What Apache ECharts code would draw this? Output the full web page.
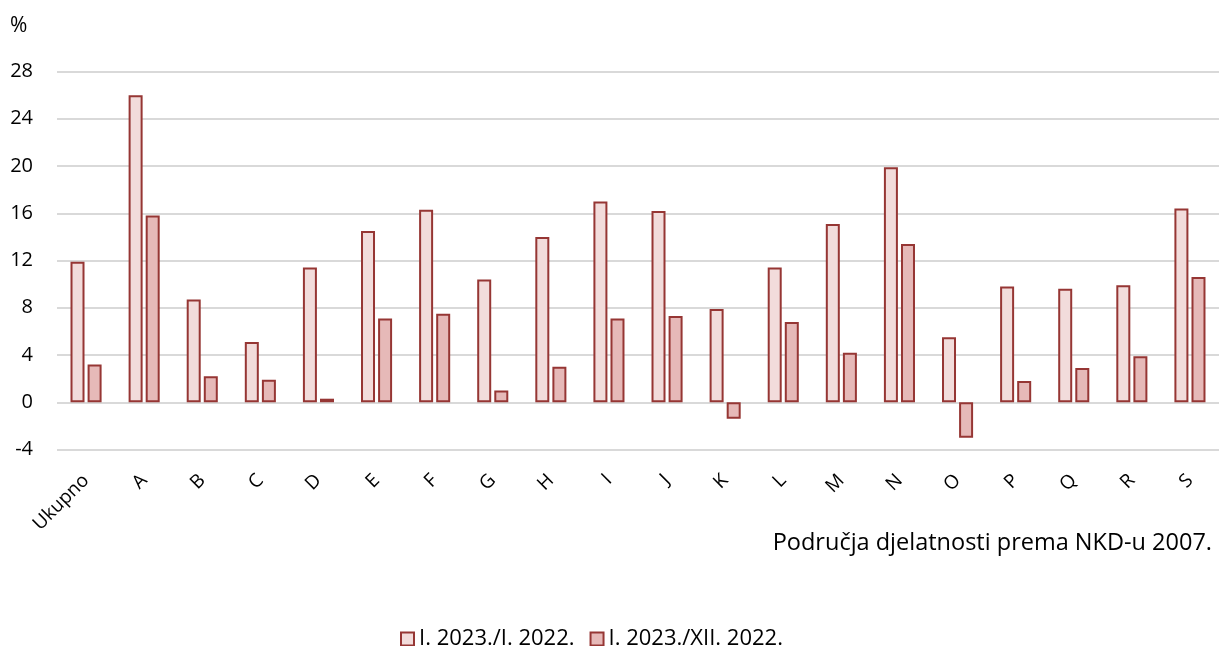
<!DOCTYPE html>
<html><head><meta charset="utf-8">
<script src="https://cdn.jsdelivr.net/npm/echarts@6/dist/echarts.min.js"></script>
<style>html,body{margin:0;padding:0;background:#fff}#c{width:1219px;height:646px}</style>
</head><body><div id="c"></div>
<script>
const categories = ['Ukupno','A','B','C','D','E','F','G','H','I','J','K','L','M','N','O','P','Q','R','S'];
const seriesNames = ['I. 2023./I. 2022.','I. 2023./XII. 2022.'];
const yoy = [11.9,26.0,8.7,5.1,11.4,14.5,16.3,10.4,14.0,17.0,16.2,7.9,11.4,15.1,19.9,5.5,9.8,9.6,9.9,16.4];
const mom = [3.2,15.8,2.2,1.9,0.3,7.1,7.5,1.0,3.0,7.1,7.3,-1.4,6.8,4.2,13.4,-3.0,1.8,2.9,3.9,10.6];
const yTicks = {min:-4,max:28,interval:4};
const unitLabel = '%';
const axisTitle = 'Područja djelatnosti prema NKD-u 2007.';

const font = '"Open Sans", "Noto Sans", sans-serif';
const chart = echarts.init(document.getElementById('c'), null, {renderer:'canvas'});
chart.setOption({
  animation:false,
  textStyle:{fontFamily:font},
  grid:{left:57,right:0,top:71.5,bottom:196.5,containLabel:false},
  xAxis:{type:'category',data:categories,
    axisLine:{show:false,onZero:false},axisTick:{show:false},
    axisLabel:{rotate:45,fontSize:19,color:'#000',margin:28,fontFamily:font,interval:0}},
  yAxis:{type:'value',min:yTicks.min,max:yTicks.max,interval:yTicks.interval,
    axisLine:{show:false},axisTick:{show:false},
    axisLabel:{fontSize:20,color:'#000',margin:24,fontFamily:font},
    splitLine:{lineStyle:{color:'#d9d9d9',width:2}}},
  legend:{left:395,top:623,itemWidth:13,itemHeight:13,itemGap:15,icon:'rect',
    textStyle:{fontSize:22,color:'#000',fontFamily:font},
    data:seriesNames},
  graphic:[
    {type:'text',left:10,top:16,style:{text:unitLabel,fontSize:21,fill:'#000',fontFamily:font}},
    {type:'text',right:7,top:531,style:{text:axisTitle,fontSize:23.5,fill:'#000',fontFamily:font}}
  ],
  series:[
    {name:seriesNames[0],type:'bar',data:yoy,barWidth:14,barGap:'22%',
      itemStyle:{color:'#f2dcdb',borderColor:'#963634',borderWidth:2}},
    {name:seriesNames[1],type:'bar',data:mom,barWidth:14,
      itemStyle:{color:'#e6b9b8',borderColor:'#963634',borderWidth:2}}
  ]
});
</script></body></html>
